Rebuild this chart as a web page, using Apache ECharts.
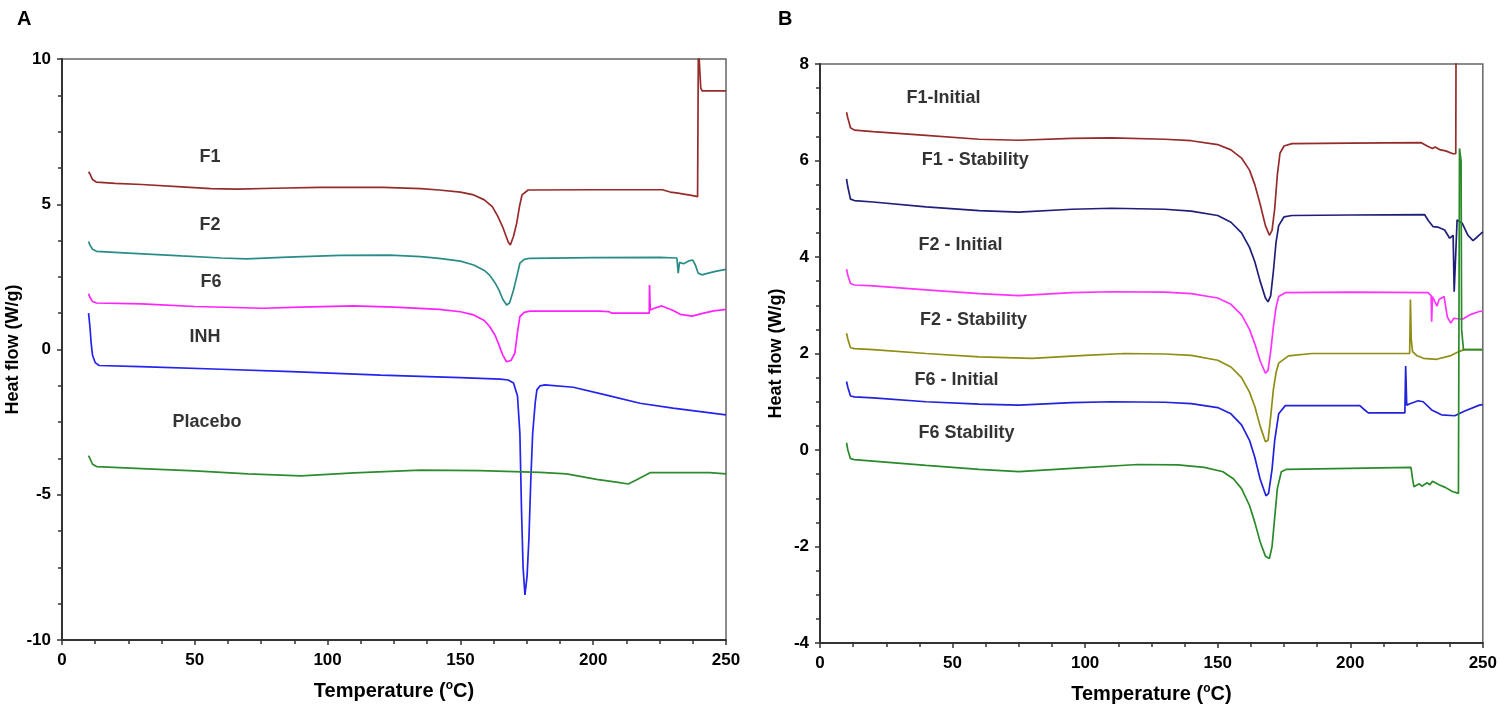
<!DOCTYPE html>
<html>
<head>
<meta charset="utf-8">
<script src="https://cdn.jsdelivr.net/npm/echarts@6/dist/echarts.min.js"></script>
<style>
html,body{margin:0;padding:0;background:#fff;}
#chart{width:1500px;height:715px;}
</style>
</head>
<body>
<div id="chart"></div>
<script>
// ---------- Panel A data: [temperature °C, heat flow W/g] ----------
const A_F1 = [[10,6.12],[10.5,6.05],[11.5,5.85],[13,5.76],[20,5.72],[30,5.68],[45,5.6],[56,5.54],[66,5.52],[80,5.55],[97,5.58],[121,5.58],[135,5.54],[142,5.49],[150,5.42],[155,5.32],[159,5.15],[162,4.92],[164,4.6],[166,4.2],[168,3.7],[168.8,3.6],[170,3.9],[171.2,4.35],[172.3,4.95],[173.2,5.32],[175.5,5.49],[200,5.5],[226,5.5],[229,5.42],[232,5.38],[234,5.35],[236,5.32],[239.3,5.26],[239.6,10.5],[240.2,10.5],[240.5,9.0],[241,8.9],[250,8.9]];
const A_F2 = [[10,3.72],[10.5,3.6],[11.5,3.45],[13,3.38],[25,3.32],[45,3.22],[60,3.15],[69.5,3.12],[85,3.18],[104.7,3.24],[123.5,3.25],[135,3.2],[142,3.14],[150,3.04],[155,2.91],[159,2.72],[161,2.56],[163,2.3],[164.5,2.05],[166,1.72],[167.4,1.53],[168.5,1.6],[170,2.05],[171.2,2.5],[172.4,2.97],[174,3.1],[176.2,3.14],[200,3.16],[225,3.17],[231.5,3.15],[232,2.63],[232.5,3.0],[234,2.95],[236,3.05],[237.5,3.08],[238.5,2.9],[239.5,2.63],[241,2.57],[243,2.62],[246,2.69],[250,2.76]];
const A_F6 = [[10,1.92],[10.5,1.8],[11.5,1.65],[13,1.6],[30,1.57],[50,1.48],[75.8,1.42],[90,1.46],[109.7,1.5],[125,1.46],[142,1.38],[150,1.3],[155,1.19],[159,1.0],[161,0.79],[163,0.5],[164.3,0.21],[166,-0.2],[167.4,-0.42],[169,-0.38],[170.5,-0.13],[171.5,0.6],[172.4,1.13],[174,1.28],[176.2,1.32],[202.6,1.32],[206,1.3],[207,1.25],[221.1,1.25],[221.2,2.22],[221.5,1.36],[223,1.42],[225.8,1.5],[229.7,1.36],[232.8,1.21],[237.2,1.15],[241.6,1.25],[245.4,1.33],[250,1.38]];
const A_INH = [[10,1.25],[10.5,0.8],[11,0.2],[11.5,-0.2],[12.5,-0.45],[14,-0.55],[29.4,-0.59],[60,-0.68],[86.5,-0.76],[120,-0.88],[150,-0.97],[165,-1.02],[168,-1.05],[170,-1.15],[171.5,-1.6],[172.4,-2.9],[173,-5.5],[173.6,-7.5],[174.3,-8.45],[175.1,-7.8],[175.8,-6.5],[176.5,-4.5],[177.2,-2.9],[178.2,-1.8],[178.8,-1.39],[180,-1.25],[181.8,-1.22],[192.5,-1.3],[205,-1.57],[217.6,-1.85],[230,-2.02],[250,-2.25]];
const A_PLACEBO = [[10,-3.65],[10.5,-3.75],[11.5,-3.95],[13,-4.03],[30,-4.1],[50,-4.18],[70,-4.28],[90,-4.35],[110,-4.25],[135,-4.15],[157.4,-4.17],[180,-4.23],[190,-4.28],[201.3,-4.47],[210,-4.58],[213.2,-4.63],[216.2,-4.49],[221.4,-4.24],[243.8,-4.24],[250,-4.28]];

// ---------- Panel B data ----------
const B_F1_INITIAL = [[10,7.0],[10.5,6.88],[11.5,6.68],[13,6.63],[20,6.6],[40,6.52],[60,6.44],[75,6.42],[95,6.46],[110,6.47],[130,6.44],[140,6.41],[150,6.33],[155,6.22],[159,6.05],[162,5.8],[164,5.5],[166,5.1],[168,4.65],[169.5,4.45],[170.5,4.55],[171.5,5.0],[172.5,5.7],[173.5,6.15],[175,6.3],[178,6.35],[200,6.36],[226.8,6.37],[229,6.3],[231,6.25],[232,6.28],[234,6.22],[236,6.2],[238.7,6.14],[239.8,6.14],[239.9,8.3]];
const B_F1_STABILITY = [[10,5.62],[10.5,5.45],[11.5,5.2],[13,5.17],[20,5.14],[40,5.04],[60,4.96],[75,4.93],[95,4.99],[110,5.01],[130,4.99],[140,4.95],[150,4.86],[155,4.72],[159,4.5],[162,4.2],[164,3.9],[166,3.5],[168,3.15],[169,3.07],[170,3.2],[171,3.7],[172,4.3],[173,4.65],[175,4.83],[178,4.86],[200,4.87],[228,4.88],[229.5,4.75],[231.2,4.63],[233,4.62],[235.6,4.56],[237.5,4.39],[238.8,4.45],[239.2,3.28],[239.6,3.3],[240.3,4.77],[242.2,4.7],[244.4,4.45],[246.3,4.34],[248,4.42],[250,4.52]];
const B_F2_INITIAL = [[10,3.75],[10.5,3.62],[11.5,3.45],[13,3.42],[20,3.4],[40,3.32],[60,3.24],[75,3.2],[95,3.26],[110,3.28],[130,3.27],[140,3.24],[150,3.15],[155,3.02],[159,2.8],[162,2.5],[164,2.2],[166,1.85],[168,1.59],[169,1.65],[170,2.05],[171,2.55],[172,2.95],[173,3.18],[175.5,3.26],[200,3.27],[229.3,3.26],[230.5,3.2],[230.7,2.66],[231,3.18],[232.7,2.98],[233.5,3.12],[235.4,3.18],[236.6,2.76],[237.9,2.63],[239.1,2.73],[242.3,2.71],[245,2.8],[248.7,2.87],[250,2.88]];
const B_F2_STABILITY = [[10,2.42],[10.5,2.3],[11.5,2.12],[13,2.1],[20,2.08],[40,2.0],[60,1.93],[80,1.9],[100,1.96],[115,2.0],[130,1.99],[140,1.96],[150,1.86],[155,1.72],[159,1.5],[162,1.2],[164,0.9],[166,0.5],[168,0.17],[169,0.2],[170,0.7],[171,1.25],[172,1.6],[173,1.8],[176.7,1.95],[185.5,2.0],[222.4,2.0],[222.7,3.12],[223,2.3],[223.5,2.04],[225,1.96],[227.6,1.9],[232.6,1.88],[237.6,1.95],[241.4,2.05],[243,2.08],[250,2.08]];
const B_F6_INITIAL = [[10,1.42],[10.5,1.3],[11.5,1.12],[13,1.1],[20,1.08],[40,1.0],[60,0.95],[75,0.93],[95,0.98],[110,1.0],[130,0.99],[140,0.96],[150,0.88],[155,0.75],[159,0.52],[162,0.2],[164,-0.15],[166,-0.6],[168.2,-0.95],[169.2,-0.9],[170.5,-0.4],[171.5,0.2],[173,0.75],[175.5,0.92],[203.6,0.92],[205,0.85],[206.8,0.77],[220.6,0.77],[220.9,1.74],[221.3,0.93],[222.5,0.96],[225.6,1.02],[227.5,1.0],[230.7,0.83],[234.4,0.73],[239.4,0.71],[243.2,0.81],[248.7,0.93],[250,0.94]];
const B_F6_STABILITY = [[10,0.15],[10.5,0.0],[11.5,-0.18],[13,-0.2],[20,-0.23],[40,-0.32],[60,-0.4],[75,-0.45],[95,-0.38],[120,-0.3],[135,-0.31],[145,-0.36],[152,-0.45],[156,-0.6],[159,-0.8],[162,-1.15],[164,-1.5],[166,-1.9],[168,-2.2],[169.5,-2.25],[170.5,-2.0],[171.5,-1.4],[172.5,-0.8],[174,-0.45],[176,-0.4],[200,-0.38],[222.9,-0.36],[223.5,-0.6],[224,-0.76],[226,-0.7],[227,-0.75],[229,-0.68],[230,-0.72],[231,-0.65],[233.5,-0.72],[236,-0.78],[238.5,-0.86],[240.8,-0.9],[241.2,6.25],[241.8,6.0],[242,2.5],[242.7,2.08],[250,2.08]];

// ---------- Curve labels: [temperature, heat flow, text] ----------
const A_LABELS = [[55.7,6.63,'F1'],[55.7,4.29,'F2'],[56.1,2.32,'F6'],[53.8,0.43,'INH'],[54.6,-2.5,'Placebo']];
const B_LABELS = [[46.6,7.3,'F1-Initial'],[58.6,6.01,'F1 - Stability'],[53.0,4.25,'F2 - Initial'],[57.9,2.69,'F2 - Stability'],[51.5,1.45,'F6 - Initial'],[55.3,0.35,'F6 Stability']];

// ---------- Axis ranges / ticks ----------
const X_RANGE = [0, 250, 50];
const A_Y_RANGE = [-10, 10, 5];
const B_Y_RANGE = [-4, 8, 2];

const FONT = '"Liberation Sans", Arial, sans-serif';
const AX = '#333';

function xAxis(gi){
  return {
    type:'value', gridIndex:gi, min:X_RANGE[0], max:X_RANGE[1], interval:X_RANGE[2],
    name:'{a|Temperature (}{s|o}{a|C)}', nameLocation:'middle', nameGap:40,
    nameTextStyle:{rich:{
      a:{fontFamily:FONT,fontWeight:'bold',fontSize:20,color:'#000'},
      s:{fontFamily:FONT,fontWeight:'bold',fontSize:12,color:'#000',verticalAlign:'top',padding:[0,0,10,0]}
    }},
    axisLine:{show:true,onZero:false,lineStyle:{color:AX,width:2}},
    axisTick:{show:true,length:5,lineStyle:{color:AX,width:1.5}},
    minorTick:{show:true,splitNumber:4,length:4,lineStyle:{color:AX,width:1.5}},
    splitLine:{show:false},
    axisLabel:{fontFamily:FONT,fontWeight:'bold',fontSize:17,color:'#000',margin:12}
  };
}
function yAxis(gi, r, gap){
  return {
    type:'value', gridIndex:gi, min:r[0], max:r[1], interval:r[2],
    name:'Heat flow (W/g)', nameLocation:'middle', nameGap:gap, nameRotate:90,
    nameTextStyle:{fontFamily:FONT,fontWeight:'bold',fontSize:18,color:'#000'},
    axisLine:{show:true,onZero:false,lineStyle:{color:AX,width:2}},
    axisTick:{show:true,length:5,lineStyle:{color:AX,width:1.5}},
    minorTick:{show:true,splitNumber:4,length:4,lineStyle:{color:AX,width:1.5}},
    splitLine:{show:false},
    axisLabel:{fontFamily:FONT,fontWeight:'bold',fontSize:17,color:'#000',margin:11}
  };
}
function line(name, data, color, xi){
  return {name, type:'line', xAxisIndex:xi, yAxisIndex:xi, data, showSymbol:false, symbol:'none',
    clip:true, lineStyle:{color, width:1.7}, itemStyle:{color}, z:3, animation:false};
}
function labels(arr, xi){
  return {type:'scatter', xAxisIndex:xi, yAxisIndex:xi, symbolSize:0, silent:true, animation:false,
    data: arr.map(d=>({value:[d[0],d[1]], name:d[2]})),
    label:{show:true, position:[0,0], align:'center', verticalAlign:'middle', formatter:p=>p.name,
      fontFamily:FONT, fontWeight:'bold', fontSize:18, color:'#000', textBorderWidth:0, textBorderColor:'transparent'}};
}

const chart = echarts.init(document.getElementById('chart'), null, {renderer:'canvas'});
chart.setOption({
  backgroundColor:'#fff',
  animation:false,
  title:[
    {text:'A', left:12, top:4, textStyle:{fontFamily:FONT,fontWeight:'bold',fontSize:20,color:'#000'}},
    {text:'B', left:773, top:4, textStyle:{fontFamily:FONT,fontWeight:'bold',fontSize:20,color:'#000'}}
  ],
  grid:[
    {left:62, right:774, top:59, bottom:75, show:true, borderColor:'#666', borderWidth:1.5, containLabel:false},
    {left:820, right:15, top:64, bottom:72, show:true, borderColor:'#666', borderWidth:1.5, containLabel:false}
  ],
  xAxis:[xAxis(0), xAxis(1)],
  yAxis:[yAxis(0, A_Y_RANGE, 38), yAxis(1, B_Y_RANGE, 35)],
  series:[
    line('F1', A_F1, '#962B2B', 0),
    line('F2', A_F2, '#2A8C86', 0),
    line('F6', A_F6, '#FF22FF', 0),
    line('INH', A_INH, '#2424EE', 0),
    line('Placebo', A_PLACEBO, '#2E8B2E', 0),
    line('F2 - Stability', B_F2_STABILITY, '#8E8E14', 1),
    line('F1-Initial', B_F1_INITIAL, '#962B2B', 1),
    line('F1 - Stability', B_F1_STABILITY, '#1F1F7A', 1),
    line('F2 - Initial', B_F2_INITIAL, '#FF33FF', 1),
    line('F6 - Initial', B_F6_INITIAL, '#2222DD', 1),
    line('F6 Stability', B_F6_STABILITY, '#2A8A2A', 1),
    labels(A_LABELS, 0),
    labels(B_LABELS, 1)
  ]
});
</script>
</body>
</html>
